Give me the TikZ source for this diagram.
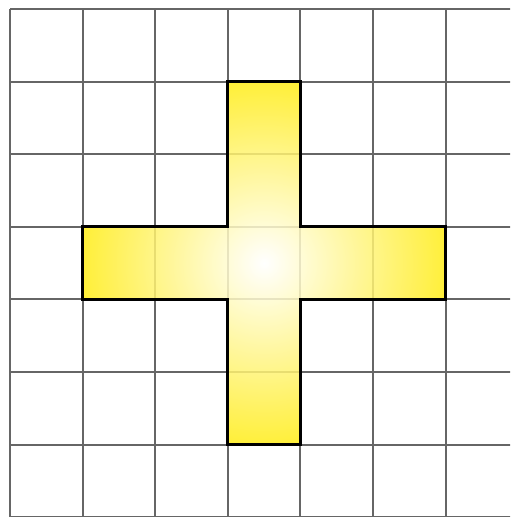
\documentclass[tikz,border=0pt]{standalone}
\usepackage{tikz}
\definecolor{crossyellow}{RGB}{255,236,24}

\begin{document}
\begin{tikzpicture}[
  gridline/.style={draw=black!60,line width=0.8pt},
  crossfill/.style={inner color=white,outer color=crossyellow,fill opacity=0.85},
  crossedge/.style={draw=black,line width=1.2pt,line join=miter}
]
\useasboundingbox (-0.138,0.004) rectangle (6.887,7.124);
% grid
\begin{scope}
  \clip (-0.138,0.004) rectangle (6.887,7.124);
  \foreach \i in {0,...,7} {
    \draw[gridline] (\i,0) -- (\i,7);
    \draw[gridline] (0,\i) -- (7.2,\i);
  }
\end{scope}
% cross
\path[crossfill] (3,1) -- (4,1) -- (4,3) -- (6,3) -- (6,4) -- (4,4) -- (4,6)
  -- (3,6) -- (3,4) -- (1,4) -- (1,3) -- (3,3) -- cycle;
\draw[crossedge] (3,1) -- (4,1) -- (4,3) -- (6,3) -- (6,4) -- (4,4) -- (4,6)
  -- (3,6) -- (3,4) -- (1,4) -- (1,3) -- (3,3) -- cycle;
\end{tikzpicture}
\end{document}
